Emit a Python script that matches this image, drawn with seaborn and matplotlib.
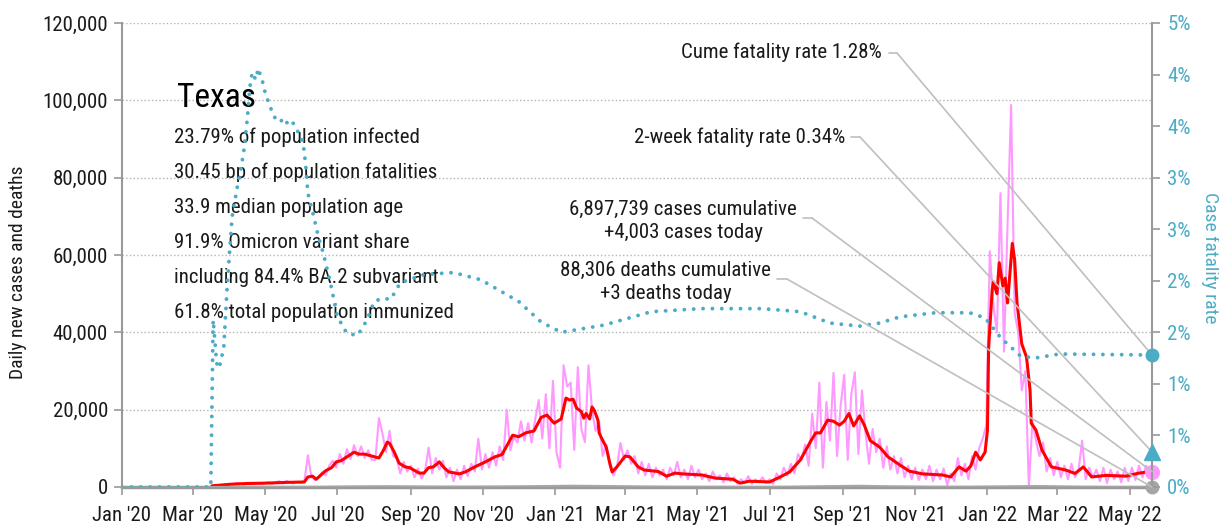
import numpy as np
import pandas as pd
import matplotlib
matplotlib.use('Agg')
import matplotlib.pyplot as plt
import matplotlib.dates as mdates
from matplotlib import font_manager as fm
from matplotlib.ticker import FuncFormatter, MultipleLocator
import seaborn as sns

# daily new cases (thousands), one reading every 3 days from 2020-03-05
new_cases_k = [
    # Mar 2020
    0.0, 0.0, 0.0, 0.0, 0.1, 0.2, 0.3, 0.5, 0.5,
    # Apr
    0.7, 0.8, 1.0, 0.9, 0.6, 1.1, 0.8, 0.9, 1.0, 0.7,
    # May
    1.0, 1.2, 0.8, 1.3, 1.5, 0.9, 1.6, 1.1, 0.9, 1.3, 1.0,
    # Jun
    1.4, 8.2, 2.6, 1.8, 2.5, 3.8, 3.0, 5.5, 6.8, 5.0,
    # Jul
    8.5, 6.0, 9.8, 7.2, 10.8, 8.0, 10.5, 7.5, 9.5, 7.0,
    # Aug
    7.0, 17.8, 13.8, 9.0, 14.5, 8.0, 7.5, 3.5, 6.5, 4.0,
    # Sep
    5.5, 2.5, 4.8, 2.2, 4.0, 10.2, 3.5, 7.5, 4.5, 6.8,
    # Oct
    2.5, 5.0, 1.5, 4.5, 2.0, 5.5, 2.8, 6.0, 4.0, 12.5, 4.5,
    # Nov
    8.5, 5.0, 9.0, 5.5, 10.5, 7.0, 20.0, 9.5, 13.0, 11.5,
    # Dec
    17.0, 12.0, 16.5, 11.5, 17.5, 22.5, 12.5, 24.0, 10.0, 27.5,
    # Jan 2021
    9.0, 5.0, 31.5, 26.0, 27.0, 9.6, 31.0, 15.0, 11.6, 31.5,
    # Feb
    20.0, 14.5, 17.0, 8.0, 11.0, 5.5, 3.0, 5.0, 11.4, 7.0,
    # Mar
    9.5, 6.0, 8.0, 3.5, 6.5, 3.0, 6.0, 2.5, 5.0, 3.0,
    # Apr
    4.5, 2.0, 5.0, 3.0, 6.5, 2.5, 4.5, 2.0, 5.5, 2.5,
    # May
    4.5, 2.0, 3.5, 1.5, 4.0, 2.0, 3.0, 1.2, 3.5, 1.5,
    # Jun
    2.5, 0.8, 2.0, 1.0, 2.8, 0.8, 2.0, 1.2, 2.5, 1.0,
    # Jul
    2.0, 0.8, 3.5, 2.0, 5.0, 3.0, 6.0, 3.5, 8.5, 7.0, 11.0,
    # Aug
    5.5, 19.0, 10.0, 27.0, 5.0, 22.0, 12.0, 29.5, 8.0, 21.0,
    # Sep
    29.0, 7.0, 24.0, 29.7, 8.5, 25.0, 14.0, 6.0, 15.0, 9.0,
    # Oct
    12.5, 5.0, 10.5, 4.5, 8.0, 3.5, 7.5, 2.5, 5.5, 2.0,
    # Nov
    5.0, 1.8, 4.5, 2.0, 5.5, 1.5, 4.5, 2.0, 4.8, 0.5,
    # Dec
    3.5, 1.5, 7.5, 3.0, 6.0, 2.0, 8.0, 4.5, 10.0, 12.5, 16.0,
    # Jan 2022
    61.0, 47.0, 40.0, 76.0, 35.0, 68.0, 98.8, 45.0, 40.0, 25.0,
    # Feb
    30.0, 0.0, 17.0, 12.0, 8.0, 11.5, 4.0, 7.5, 3.0,
    # Mar
    6.5, 2.5, 5.5, 2.0, 6.0, 2.5, 4.5, 12.0, 2.0, 5.0, 2.5,
    # Apr
    4.5, 1.5, 5.0, 1.0, 4.5, 2.0, 4.0, 1.2, 5.0, 1.5,
    # May
    5.0, 1.8, 5.5, 2.5, 5.5, 4.0,
]

# 7-day average of new cases (thousands)
avg_dates = [
    '2020-03-17', '2020-04-01', '2020-04-15', '2020-05-01', '2020-05-20', '2020-06-03',
    '2020-06-06', '2020-06-10', '2020-06-13', '2020-06-17', '2020-06-21', '2020-06-26',
    '2020-06-30', '2020-07-04', '2020-07-09', '2020-07-15', '2020-07-19', '2020-07-24',
    '2020-07-30', '2020-08-05', '2020-08-09', '2020-08-12', '2020-08-14', '2020-08-18',
    '2020-08-22', '2020-08-27', '2020-08-31', '2020-09-08', '2020-09-12', '2020-09-16',
    '2020-09-20', '2020-09-25', '2020-09-29', '2020-10-03', '2020-10-12', '2020-10-17',
    '2020-10-25', '2020-11-03', '2020-11-11', '2020-11-17', '2020-11-26', '2020-12-01',
    '2020-12-07', '2020-12-14', '2020-12-20', '2020-12-25', '2020-12-31', '2021-01-06',
    '2021-01-10', '2021-01-13', '2021-01-16', '2021-01-19', '2021-01-23', '2021-01-25',
    '2021-01-27', '2021-01-30', '2021-02-01', '2021-02-03', '2021-02-06', '2021-02-07',
    '2021-02-09', '2021-02-13', '2021-02-16', '2021-02-18', '2021-02-22', '2021-03-01',
    '2021-03-05', '2021-03-12', '2021-03-17', '2021-03-29', '2021-04-05', '2021-04-12',
    '2021-04-18', '2021-05-05', '2021-05-16', '2021-05-31', '2021-06-06', '2021-06-14',
    '2021-07-01', '2021-07-10', '2021-07-18', '2021-07-27', '2021-08-05', '2021-08-09',
    '2021-08-13', '2021-08-19', '2021-08-24', '2021-08-29', '2021-09-02', '2021-09-06',
    '2021-09-10', '2021-09-15', '2021-09-19', '2021-09-24', '2021-10-02', '2021-10-09',
    '2021-10-19', '2021-10-27', '2021-11-07', '2021-11-24', '2021-12-01', '2021-12-08',
    '2021-12-14', '2021-12-18', '2021-12-22', '2021-12-26', '2021-12-30', '2022-01-01',
    '2022-01-02', '2022-01-05', '2022-01-06', '2022-01-09', '2022-01-11', '2022-01-14',
    '2022-01-16', '2022-01-18', '2022-01-22', '2022-01-24', '2022-01-26', '2022-01-30',
    '2022-02-03', '2022-02-06', '2022-02-07', '2022-02-11', '2022-02-16', '2022-02-24',
    '2022-03-08', '2022-03-16', '2022-03-23', '2022-03-30', '2022-04-11', '2022-04-28',
    '2022-05-09', '2022-05-20',
]
avg_cases_k = [
    0.3, 0.7, 0.9, 1.0, 1.2, 1.3,
    2.6, 2.8, 2.0, 3.1, 4.2, 5.0,
    6.5, 6.8, 7.8, 9.0, 8.5, 8.5,
    8.0, 7.5, 9.6, 11.6, 11.3, 9.0,
    6.2, 5.2, 5.0, 3.6, 3.6, 5.0,
    5.2, 6.5, 5.0, 3.9, 3.4, 3.9,
    5.2, 6.5, 7.8, 8.4, 13.4, 13.0,
    14.0, 14.5, 18.0, 18.6, 16.5, 17.6,
    23.0, 22.5, 22.7, 20.4, 19.5, 17.8,
    19.0, 17.6, 20.7, 19.8, 17.3, 14.0,
    12.7, 10.3, 6.2, 3.9, 5.2, 8.0,
    7.8, 5.2, 4.4, 4.0, 2.8, 3.6,
    3.4, 3.1, 2.3, 2.0, 1.0, 1.5,
    1.3, 2.6, 3.9, 7.0, 12.0, 14.0,
    14.0, 17.3, 17.0, 16.0, 17.0, 19.0,
    15.8, 18.4, 16.0, 12.0, 10.3, 7.8,
    5.7, 4.1, 3.4, 3.1, 2.6, 5.2,
    4.1, 5.5, 9.0, 7.0, 9.0, 14.7,
    36.0, 51.0, 53.0, 50.0, 58.0, 52.0,
    54.0, 47.6, 63.0, 58.7, 47.6, 37.0,
    33.6, 25.0, 16.5, 14.7, 9.6, 5.2,
    4.4, 3.5, 5.2, 2.6, 3.0, 2.8,
    3.6, 4.0,
]

# case fatality rate (%)
cfr_dates = [
    '2020-01-01', '2020-03-16', '2020-03-18', '2020-03-21', '2020-03-23', '2020-03-25',
    '2020-03-27', '2020-03-30', '2020-04-03', '2020-04-08', '2020-04-10', '2020-04-13',
    '2020-04-16', '2020-04-18', '2020-04-20', '2020-04-23', '2020-04-25', '2020-04-29',
    '2020-05-01', '2020-05-05', '2020-05-10', '2020-05-14', '2020-05-16', '2020-05-21',
    '2020-05-24', '2020-05-28', '2020-06-02', '2020-06-04', '2020-06-06', '2020-06-11',
    '2020-06-15', '2020-06-19', '2020-06-25', '2020-07-01', '2020-07-09', '2020-07-18',
    '2020-07-26', '2020-08-01', '2020-08-08', '2020-08-15', '2020-08-23', '2020-09-12',
    '2020-10-07', '2020-10-30', '2020-12-01', '2020-12-20', '2021-01-06', '2021-02-11',
    '2021-03-23', '2021-05-04', '2021-06-24', '2021-07-27', '2021-08-21', '2021-09-15',
    '2021-10-02', '2021-10-19', '2021-11-18', '2021-12-17', '2021-12-30', '2022-01-12',
    '2022-01-29', '2022-02-10', '2022-03-03', '2022-05-20',
]
cfr_pct = [
    0.0, 0.0, 1.62, 1.20, 1.15, 1.25,
    1.36, 1.98, 2.62, 2.95, 3.05, 3.27,
    3.59, 3.88, 4.02, 3.95, 4.06, 3.92,
    3.82, 3.69, 3.56, 3.54, 3.58, 3.51,
    3.54, 3.46, 3.34, 3.14, 2.85, 2.62,
    2.42, 2.27, 1.98, 1.65, 1.49, 1.47,
    1.62, 1.80, 1.83, 1.82, 1.98, 2.06,
    2.08, 2.01, 1.80, 1.60, 1.50, 1.57,
    1.70, 1.73, 1.73, 1.70, 1.59, 1.56,
    1.59, 1.65, 1.69, 1.69, 1.64, 1.45,
    1.27, 1.25, 1.29, 1.28,
]

# daily deaths, mid-month readings
death_dates = [
    '2020-03-15', '2020-04-15', '2020-05-15', '2020-06-15', '2020-07-15', '2020-08-15',
    '2020-09-15', '2020-10-15', '2020-11-15', '2020-12-15', '2021-01-15', '2021-02-15',
    '2021-03-15', '2021-04-15', '2021-05-15', '2021-06-15', '2021-07-15', '2021-08-15',
    '2021-09-15', '2021-10-15', '2021-11-15', '2021-12-15', '2022-01-15', '2022-02-15',
    '2022-03-15', '2022-04-15', '2022-05-20',
]
daily_deaths = [
    5, 40, 30, 30, 150, 200, 100, 80, 120, 220, 330, 250,
    120, 50, 40, 30, 40, 200, 320, 150, 60, 50, 150, 250,
    80, 20, 3,
]

end_date = '2022-05-20'
cume_cfr = 1.28
two_week_cfr = 0.34
cases_today = 4003
deaths_today = 3

info_lines = [
    '23.79% of population infected',
    '30.45 bp of population fatalities',
    '33.9 median population age',
    '91.9% Omicron variant share',
    'including 84.4% BA.2 subvariant',
    '61.8% total population immunized',
]

PINK = '#ff99ff'
RED = '#ff0000'
TEAL = '#4bacc6'
GRAY = '#a6a6a6'
LEADER = '#bfbfbf'
INK = '#1a1a1a'

sns.set_style('white')
installed = {f.name for f in fm.fontManager.ttflist}
family = 'DejaVu Sans'
for cand in ['Liberation Sans Narrow', 'Roboto Condensed', 'Open Sans Condensed']:
    if cand in installed:
        family = cand
        break
plt.rcParams['font.family'] = [family, 'DejaVu Sans']
if family == 'DejaVu Sans':
    plt.rcParams['font.stretch'] = 'condensed'

fig = plt.figure(figsize=(12.19, 5.25), dpi=100)
ax = fig.add_axes([122 / 1219, 38 / 525, 1030 / 1219, 464 / 525])
ax2 = ax.twinx()

case_dates = pd.date_range('2020-03-05', periods=len(new_cases_k), freq='3D')
cases = np.array(new_cases_k) * 1000

sns.lineplot(x=case_dates, y=cases, ax=ax, color=PINK, lw=1.5, estimator=None, zorder=2)
sns.lineplot(x=pd.to_datetime(avg_dates), y=np.array(avg_cases_k) * 1000, ax=ax,
             color=RED, lw=2.2, estimator=None, zorder=3)
sns.lineplot(x=pd.to_datetime(death_dates), y=daily_deaths, ax=ax, color=GRAY, lw=1.5,
             estimator=None, zorder=4)

cfr_line = sns.lineplot(x=pd.to_datetime(cfr_dates), y=np.array(cfr_pct) / 100, ax=ax2,
                        color=TEAL, lw=2.8, estimator=None)
for ln in ax2.lines:
    ln.set_linestyle((0, (0.01, 2.4)))
    ln.set_dash_capstyle('round')

xend = pd.Timestamp(end_date)
ax.set_xlim(pd.Timestamp('2020-01-01'), xend)
ax.set_ylim(0, 120000)
ax2.set_ylim(0, 0.045)

# end markers
ax.plot([xend], [cases_today], 'o', color=PINK, ms=10, clip_on=False, zorder=6)
ax.plot([xend], [deaths_today], 'o', color=GRAY, ms=9, clip_on=False, zorder=6)
ax2.plot([xend], [cume_cfr / 100], 'o', color=TEAL, ms=9, clip_on=False, zorder=6)
ax2.plot([xend], [two_week_cfr / 100], '^', color=TEAL, ms=12, clip_on=False, zorder=6)

# axes styling
ax.yaxis.set_major_locator(MultipleLocator(20000))
ax.yaxis.set_major_formatter(FuncFormatter(lambda v, p: f'{int(v):,}'))
ax.grid(axis='y', linestyle=':', color='#b3b3b3', lw=1)
ax.xaxis.set_major_locator(mdates.MonthLocator(bymonth=[1, 3, 5, 7, 9, 11]))
ax.xaxis.set_major_formatter(mdates.DateFormatter("%b '%y"))
ax2.yaxis.set_major_locator(MultipleLocator(0.005))
ax2.yaxis.set_major_formatter(FuncFormatter(lambda v, p: f'{int(np.floor(v * 100 + 0.5 + 1e-9))}%'))

for a in (ax, ax2):
    for side in ['left', 'right', 'bottom']:
        a.spines[side].set_color('#9a9a9a')
        a.spines[side].set_linewidth(1.5)
    a.spines['top'].set_visible(False)
    a.set_xlabel('')
    a.set_ylabel('')
ax.spines['right'].set_visible(False)
ax2.spines['left'].set_visible(False)
ax2.spines['bottom'].set_visible(False)
ax.spines['bottom'].set_linewidth(2.5)

ax.tick_params(axis='both', which='major', direction='out', length=6, width=1.2,
               color='#9a9a9a', labelsize=15, labelcolor=INK, pad=4)
ax.tick_params(axis='x', pad=8)
ax.tick_params(axis='y', left=True)
ax.tick_params(axis='x', bottom=True)
ax2.tick_params(axis='y', direction='out', length=6, width=1.2, color='#9a9a9a',
                labelsize=15, labelcolor=TEAL, pad=5)

fig.text(18 / 1219, 1 - 272 / 525, 'Daily new cases and deaths', rotation=90,
         ha='center', va='center', fontsize=14, color=INK)
fig.text(1210 / 1219, 1 - 258 / 525, 'Case fatality rate', rotation=270,
         ha='center', va='center', fontsize=14, color=TEAL)

# state info block
ax.text(0.0534, 0.838, 'Texas', transform=ax.transAxes, fontsize=24, color='black',
        ha='left', va='center', zorder=10)
for i, line in enumerate(info_lines):
    ax.text(0.0505, 0.754 - i * 0.0755, line, transform=ax.transAxes, fontsize=15,
            color=INK, ha='left', va='center', zorder=10)

# annotations with leader lines
notes = [
    ('Cume fatality rate 1.28%', 882, 52, 889, 897, 53, ax2, cume_cfr / 100),
    ('2-week fatality rate 0.34%', 845, 137, 851, 860, 137, ax2, two_week_cfr / 100),
    ('6,897,739 cases cumulative\n+4,003 cases today', 797, 221, 803, 812, 218, ax, cases_today),
    ('88,306 deaths cumulative\n+3 deaths today', 771, 282, 777, 787, 279, ax, deaths_today),
]
for text, tx, ty, sx0, sx1, sy, target_ax, yval in notes:
    fx = lambda px: (px - 122) / 1030
    fy = lambda py: (487 - py) / 464
    ax2.text(fx(tx), fy(ty), text, transform=ax2.transAxes, fontsize=15, color=INK,
             ha='right', va='center', multialignment='center', linespacing=1.25, zorder=10)
    ax2.plot([fx(sx0), fx(sx1)], [fy(sy), fy(sy)], color=LEADER, lw=1.2,
             transform=ax2.transAxes, clip_on=False, zorder=5)
    ax2.annotate('', xy=(mdates.date2num(xend), yval), xycoords=target_ax.transData,
                 xytext=(fx(sx1), fy(sy)), textcoords=ax2.transAxes, annotation_clip=False,
                 arrowprops=dict(arrowstyle='-', color=LEADER, lw=1.2, shrinkA=0, shrinkB=0),
                 zorder=5)

fig.savefig('out.png', dpi=100)
